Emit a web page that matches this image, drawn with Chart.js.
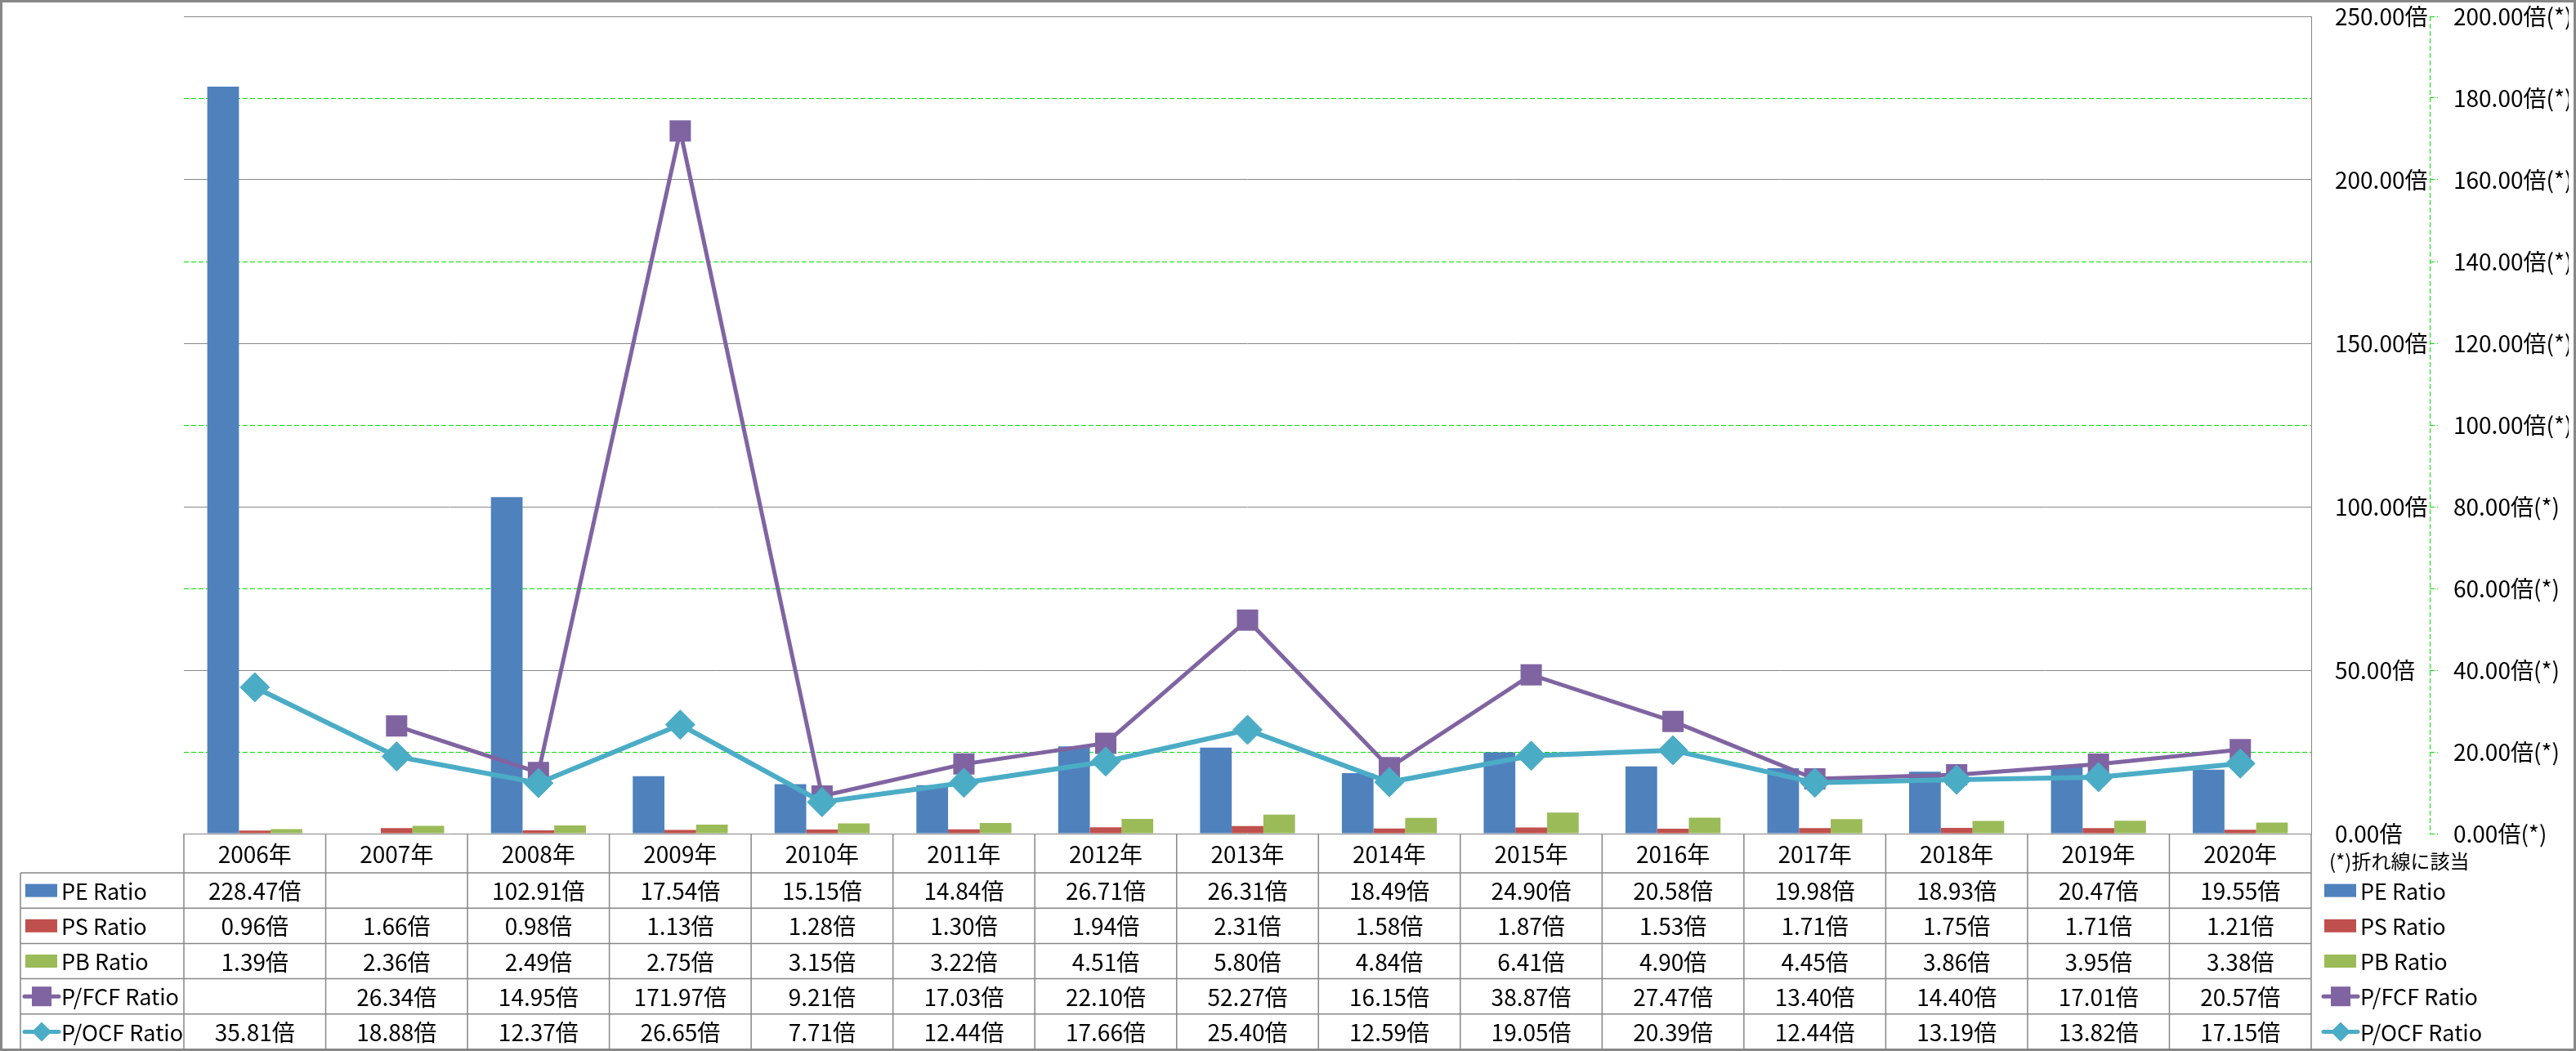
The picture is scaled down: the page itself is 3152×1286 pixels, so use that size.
<!DOCTYPE html>
<html>
<head>
<meta charset="utf-8">
<script src="https://cdn.jsdelivr.net/npm/chart.js@4"></script>
<style>
  html, body { margin: 0; padding: 0; background: #fff; }
  canvas { display: block; }
</style>
</head>
<body>
<canvas id="chart" width="3152" height="1286"></canvas>
<script>
const years = ['2006年','2007年','2008年','2009年','2010年','2011年','2012年','2013年','2014年','2015年','2016年','2017年','2018年','2019年','2020年'];
const peRatio = [228.47, null, 102.91, 17.54, 15.15, 14.84, 26.71, 26.31, 18.49, 24.90, 20.58, 19.98, 18.93, 20.47, 19.55];
const psRatio = [0.96, 1.66, 0.98, 1.13, 1.28, 1.30, 1.94, 2.31, 1.58, 1.87, 1.53, 1.71, 1.75, 1.71, 1.21];
const pbRatio = [1.39, 2.36, 2.49, 2.75, 3.15, 3.22, 4.51, 5.80, 4.84, 6.41, 4.90, 4.45, 3.86, 3.95, 3.38];
const pfcfRatio = [null, 26.34, 14.95, 171.97, 9.21, 17.03, 22.10, 52.27, 16.15, 38.87, 27.47, 13.40, 14.40, 17.01, 20.57];
const pocfRatio = [35.81, 18.88, 12.37, 26.65, 7.71, 12.44, 17.66, 25.40, 12.59, 19.05, 20.39, 12.44, 13.19, 13.82, 17.15];
const leftAxis = { min: 0, max: 250, step: 50, unit: '倍' };
const rightAxis = { min: 0, max: 200, step: 20, unit: '倍(*)' };
const axisNote = '(*)折れ線に該当';

const FONT = "'Noto Sans CJK JP', 'Noto Sans', sans-serif";
const GREEN = 'rgb(0,225,0)';
const GRAY = '#878787';

document.addEventListener('DOMContentLoaded', function () {
  const canvas = document.getElementById('chart');

  const rows = [
    { label: 'PE Ratio', values: peRatio, color: '#4F81BD', kind: 'bar' },
    { label: 'PS Ratio', values: psRatio, color: '#C0504D', kind: 'bar' },
    { label: 'PB Ratio', values: pbRatio, color: '#9BBB59', kind: 'bar' },
    { label: 'P/FCF Ratio', values: pfcfRatio, color: '#8064A2', kind: 'square' },
    { label: 'P/OCF Ratio', values: pocfRatio, color: '#4BACC6', kind: 'diamond' }
  ];

  const data = {
    labels: years,
    datasets: [
      { type: 'bar', label: 'PE Ratio', data: peRatio, backgroundColor: rows[0].color, yAxisID: 'y', order: 2 },
      { type: 'bar', label: 'PS Ratio', data: psRatio, backgroundColor: rows[1].color, yAxisID: 'y', order: 2 },
      { type: 'bar', label: 'PB Ratio', data: pbRatio, backgroundColor: rows[2].color, yAxisID: 'y', order: 2 },
      {
        type: 'line', label: 'P/FCF Ratio', data: pfcfRatio, yAxisID: 'y2', order: 1,
        borderColor: rows[3].color, backgroundColor: rows[3].color, borderWidth: 5,
        pointStyle: 'rect', pointRadius: 17, pointBorderWidth: 2, pointBorderColor: rows[3].color,
        pointBackgroundColor: rows[3].color, tension: 0, spanGaps: false
      },
      {
        type: 'line', label: 'P/OCF Ratio', data: pocfRatio, yAxisID: 'y2', order: 0,
        borderColor: rows[4].color, backgroundColor: rows[4].color, borderWidth: 6,
        pointStyle: 'rectRot', pointRadius: 18, pointBorderWidth: 1, pointBorderColor: rows[4].color,
        pointBackgroundColor: rows[4].color, tension: 0
      }
    ]
  };

  // table under the plot, legend on the right, frame
  const tablePlugin = {
    id: 'dataTable',
    beforeDraw(chart) {
      const ctx = chart.ctx;
      const area = chart.chartArea;
      const y1 = chart.scales.y;
      const y2 = chart.scales.y2;
      // pixel rows already taken by the grey primary grid
      const taken = [];
      for (let v = leftAxis.min; v <= leftAxis.max; v += leftAxis.step) {
        taken.push(Math.round(y1.getPixelForValue(v)));
      }
      ctx.save();
      ctx.fillStyle = '#fff';
      ctx.fillRect(0, 0, chart.width, chart.height);
      // secondary grid lines (dashed green)
      ctx.strokeStyle = GREEN;
      ctx.lineWidth = 1;
      ctx.setLineDash([6, 3]);
      ctx.beginPath();
      for (let v = rightAxis.min; v <= rightAxis.max; v += rightAxis.step) {
        const py = Math.round(y2.getPixelForValue(v));
        if (taken.some(t => Math.abs(t - py) <= 1)) continue;
        ctx.moveTo(area.left, py + 0.5);
        ctx.lineTo(area.right, py + 0.5);
      }
      ctx.moveTo(Math.round(y2.left) + 0.5, y2.top);
      ctx.lineTo(Math.round(y2.left) + 0.5, y2.bottom);
      ctx.stroke();
      ctx.restore();
    },
    afterDraw(chart) {
      const ctx = chart.ctx;
      const area = chart.chartArea;
      const xs = chart.scales.x;
      const colW = (area.right - area.left) / years.length;
      const headTop = area.bottom;
      const headBottom = area.bottom + 48;
      const rowH = 43.2;
      const tableLeft = 25;

      ctx.save();
      // top grey line of the plot
      ctx.strokeStyle = GRAY;
      ctx.lineWidth = 1;
      ctx.beginPath();
      ctx.moveTo(area.left, Math.round(area.top) + 0.5);
      ctx.lineTo(area.right, Math.round(area.top) + 0.5);
      ctx.stroke();

      // table grid
      ctx.lineWidth = 1.5;
      ctx.beginPath();
      for (let i = 0; i <= years.length; i++) {
        const x = area.left + i * colW;
        ctx.moveTo(x, headTop);
        ctx.lineTo(x, headBottom + rowH * rows.length);
      }
      ctx.moveTo(tableLeft, headBottom);
      ctx.lineTo(tableLeft, headBottom + rowH * rows.length);
      for (let r = 0; r <= rows.length; r++) {
        const y = headBottom + r * rowH;
        ctx.moveTo(tableLeft, y);
        ctx.lineTo(area.right, y);
      }
      ctx.stroke();

      // header + cells
      ctx.fillStyle = '#000';
      ctx.font = '28px ' + FONT;
      ctx.textAlign = 'center';
      ctx.textBaseline = 'middle';
      years.forEach((yr, i) => {
        const cx = xs.getPixelForValue(i);
        ctx.fillText(yr, cx, (headTop + headBottom) / 2 + 1);
        rows.forEach((row, r) => {
          const v = row.values[i];
          if (v === null) return;
          ctx.fillText(v.toFixed(2) + '倍', cx, headBottom + r * rowH + rowH / 2 + 1);
        });
      });

      // legend keys inside table and on the right
      rows.forEach((row, r) => {
        const cy = headBottom + r * rowH + rowH / 2;
        drawKey(ctx, row, 31, cy);
        drawKey(ctx, row, 2844, cy);
        ctx.fillStyle = '#000';
        ctx.textAlign = 'left';
        ctx.font = '27px ' + FONT;
        ctx.fillText(row.label, 75, cy + 1);
        ctx.fillText(row.label, 2888, cy + 1);
      });

      ctx.font = '24px ' + FONT;
      ctx.textAlign = 'left';
      ctx.fillText(axisNote, 2850, 1054);

      // outer frame
      ctx.strokeStyle = GRAY;
      ctx.lineWidth = 3;
      ctx.strokeRect(1.5, 1.5, chart.width - 3, chart.height - 3);
      ctx.restore();
    }
  };

  function drawKey(ctx, row, x, cy) {
    ctx.save();
    ctx.fillStyle = row.color;
    ctx.strokeStyle = row.color;
    if (row.kind === 'bar') {
      ctx.fillRect(x, cy - 8, 39, 16);
    } else {
      ctx.lineWidth = 5;
      ctx.lineCap = 'round';
      ctx.beginPath();
      ctx.moveTo(x - 1, cy);
      ctx.lineTo(x + 41, cy);
      ctx.stroke();
      const mx = x + 20;
      if (row.kind === 'square') {
        ctx.fillRect(mx - 12, cy - 12, 24, 24);
      } else {
        ctx.beginPath();
        ctx.moveTo(mx, cy - 12);
        ctx.lineTo(mx + 12, cy);
        ctx.lineTo(mx, cy + 12);
        ctx.lineTo(mx - 12, cy);
        ctx.closePath();
        ctx.fill();
      }
    }
    ctx.restore();
  }

  const config = {
    type: 'bar',
    data: data,
    plugins: [tablePlugin],
    options: {
      responsive: false,
      animation: false,
      devicePixelRatio: 1,
      layout: { padding: { left: 225, top: 20, right: 9, bottom: 266 } },
      plugins: { legend: { display: false }, tooltip: { enabled: false } },
      datasets: { bar: { categoryPercentage: 0.67, barPercentage: 1.0 } },
      scales: {
        x: { display: false, offset: true },
        y: {
          position: 'right',
          min: leftAxis.min, max: leftAxis.max,
          ticks: {
            stepSize: leftAxis.step, padding: 29, crossAlign: 'near',
            color: '#000', font: { family: FONT, size: 28 },
            callback: (v) => v.toFixed(2) + leftAxis.unit
          },
          grid: { color: GRAY, lineWidth: 1, drawTicks: false },
          border: { display: true, color: GRAY, width: 1 },
          afterFit(scale) { scale.width = 145; scale.paddingTop = 0; scale.paddingBottom = 0; }
        },
        y2: {
          position: 'right',
          min: rightAxis.min, max: rightAxis.max,
          ticks: {
            stepSize: rightAxis.step, padding: 19, crossAlign: 'near',
            color: '#000', font: { family: FONT, size: 28 },
            callback: (v) => v.toFixed(2) + rightAxis.unit
          },
          grid: {
            drawOnChartArea: false, color: GREEN, lineWidth: 1, drawTicks: true, tickLength: 10,
            tickColor: GREEN, tickBorderDash: [6, 3]
          },
          border: { display: false },
          afterFit(scale) { scale.width = 170; scale.paddingTop = 0; scale.paddingBottom = 0; }
        }
      }
    }
  };

  const myChart = new Chart(canvas, config);
});
</script>
</body>
</html>
